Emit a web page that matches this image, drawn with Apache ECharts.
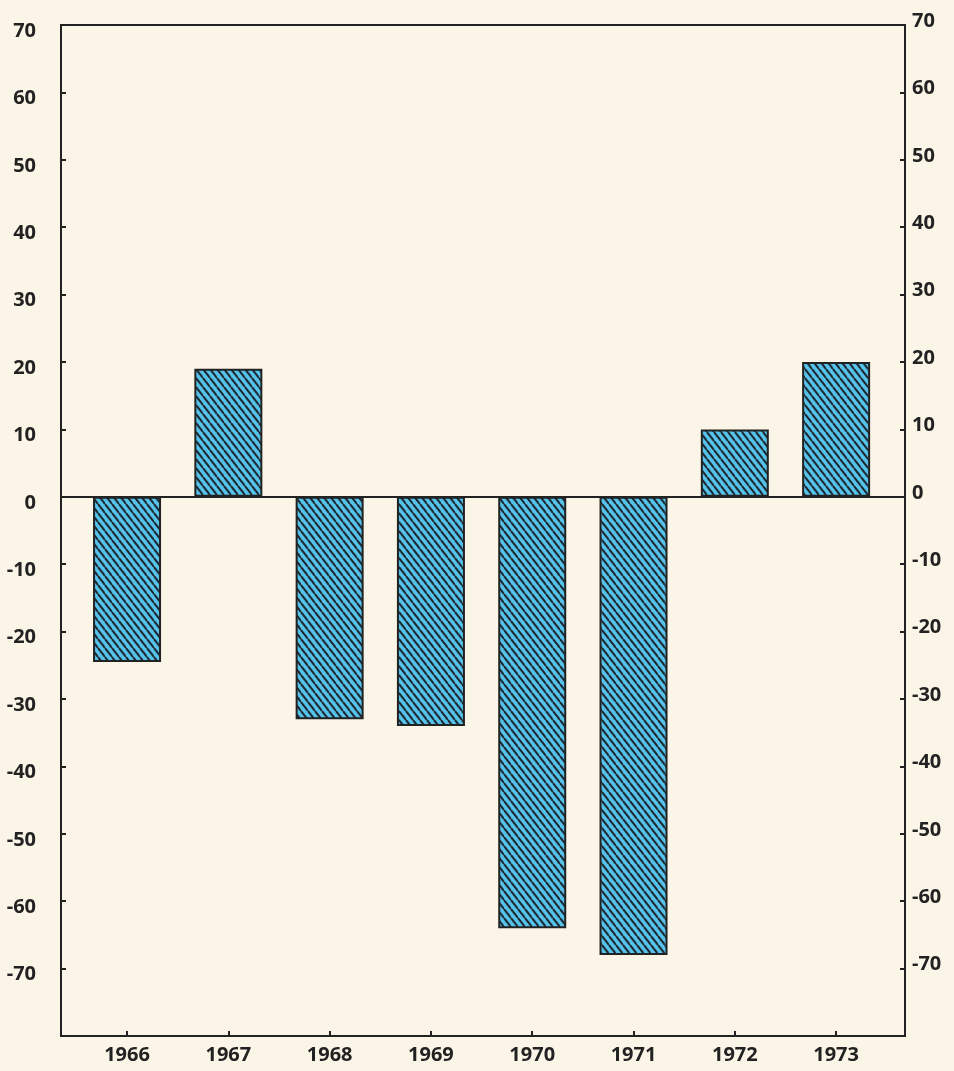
<!DOCTYPE html>
<html>
<head>
<meta charset="utf-8">
<script src="https://cdn.jsdelivr.net/npm/echarts@6/dist/echarts.min.js"></script>
<style>
  html, body { margin: 0; padding: 0; background: #fbf5e7; }
  #chart { width: 954px; height: 1071px; }
</style>
</head>
<body>
<div id="chart"></div>
<script>
// values
var years = [1966, 1967, 1968, 1969, 1970, 1971, 1972, 1973];
var values = [-24.5, 19, -33, -34, -64, -68, 10, 20];
var yTicks = [70, 60, 50, 40, 30, 20, 10, 0, -10, -20, -30, -40, -50, -60, -70];

// hatch pattern: blue fill, dark "\" stripes
function makeHatch() {
  var w = 7, h = 9;
  var c = document.createElement('canvas');
  c.width = w; c.height = h;
  var ctx = c.getContext('2d');
  ctx.fillStyle = '#55c2ea';
  ctx.fillRect(0, 0, w, h);
  ctx.strokeStyle = '#1e2a33';
  ctx.lineWidth = 2.0;
  [-w, 0, w].forEach(function (dx) {
    ctx.beginPath();
    ctx.moveTo(dx, 0);
    ctx.lineTo(dx + w, h);
    ctx.stroke();
  });
  return c;
}

var labelFont = {
  fontFamily: 'Open Sans',
  fontWeight: 'bold',
  fontSize: 20,
  color: '#222'
};

function yLabel(v) {
  return yTicks.indexOf(v) >= 0 ? '{a|' + v + '}' : '';
}

var myChart = echarts.init(document.getElementById('chart'));
var options = {
  backgroundColor: '#fbf5e7',
  animation: false,
  grid: {
    left: 61, right: 49, top: 25, bottom: 35,
    show: true,
    borderColor: '#222',
    borderWidth: 2,
    outerBoundsMode: 'none'
  },
  xAxis: {
    type: 'value',
    min: 1965.348,
    max: 1973.68,
    splitLine: {show: false},
    axisLine: {show: false, onZero: false},
    axisTick: {show: true, inside: true, length: 5, customValues: years, lineStyle: {color: '#222', width: 2}},
    axisLabel: Object.assign({customValues: years, margin: 9, formatter: function (v) { return String(v); }}, labelFont)
  },
  yAxis: [
    {
      type: 'value',
      min: -80, max: 70, interval: 10,
      position: 'left',
      splitLine: {show: false},
      axisLine: {show: false},
      axisTick: {show: true, inside: true, length: 5, lineStyle: {color: '#222', width: 2}},
      axisLabel: Object.assign({
        margin: 25,
        formatter: yLabel,
        rich: {a: Object.assign({padding: [12, 0, 0, 0]}, labelFont)}
      }, labelFont)
    },
    {
      type: 'value',
      min: -80, max: 70, interval: 10,
      position: 'right',
      splitLine: {show: false},
      axisLine: {show: false},
      axisTick: {show: true, inside: true, length: 5, lineStyle: {color: '#222', width: 2}},
      axisLabel: Object.assign({
        margin: 7,
        formatter: yLabel,
        rich: {a: Object.assign({padding: [0, 0, 8, 0]}, labelFont)}
      }, labelFont)
    }
  ],
  series: [{
    type: 'bar',
    barWidth: 68,
    data: years.map(function (y, i) { return [y, values[i]]; }),
    itemStyle: {
      color: {image: makeHatch(), repeat: 'repeat'},
      borderColor: '#222',
      borderWidth: 2
    },
    markLine: {
      silent: true,
      symbol: 'none',
      label: {show: false},
      lineStyle: {color: '#222', width: 2, type: 'solid'},
      data: [{yAxis: 0}]
    }
  }]
};
myChart.setOption(options);
</script>
</body>
</html>
